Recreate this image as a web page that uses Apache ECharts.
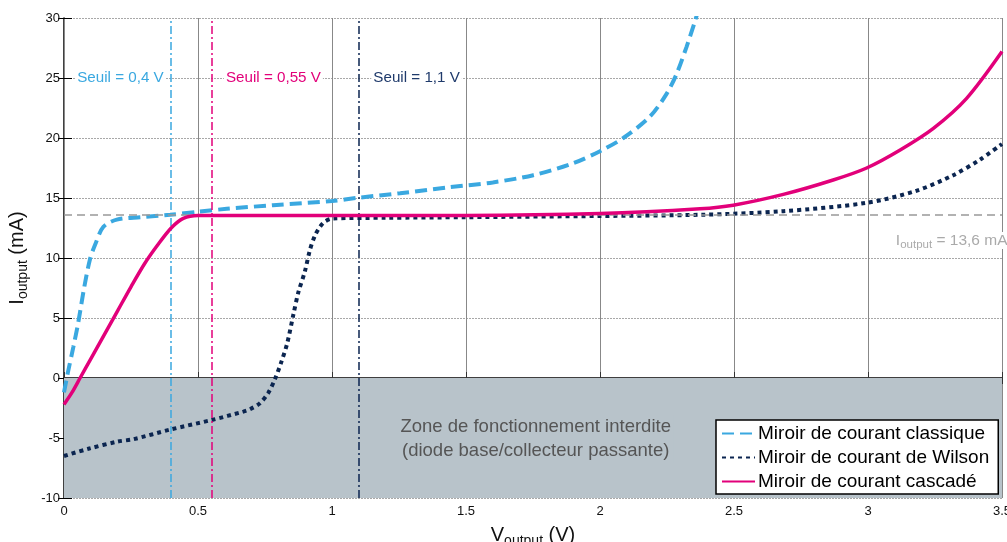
<!DOCTYPE html>
<html><head><meta charset="utf-8">
<script src="https://cdn.jsdelivr.net/npm/echarts@6/dist/echarts.min.js"></script>
<style>html,body{margin:0;padding:0;background:#fff}#c{width:1007px;height:542px}</style>
</head><body><div id="c"></div>
<script>
const FONT = 'Liberation Sans, Arial, sans-serif';

const seriesNames = ['Miroir de courant classique', 'Miroir de courant de Wilson', 'Miroir de courant cascadé'];

const classicData = [[0,-1.2],[0.014,0.4],[0.035,2.6],[0.053,4.6],[0.075,7.5],[0.097,9.9],[0.116,11.1],[0.147,12.6],[0.197,13.2],[0.284,13.4],[0.396,13.6],[0.5,13.85],[0.607,14.1],[0.78,14.4],[1.0,14.75],[1.09,15.0],[1.254,15.4],[1.44,15.9],[1.6,16.3],[1.751,16.9],[1.9,17.9],[2.0,18.9],[2.087,20.0],[2.187,21.8],[2.249,23.7],[2.285,25.3],[2.323,27.6],[2.354,29.7],[2.362,30.3]];

const wilsonData = [[0,-6.5],[0.091,-5.9],[0.2,-5.3],[0.259,-5.1],[0.396,-4.3],[0.551,-3.5],[0.669,-2.8],[0.694,-2.6],[0.731,-2.1],[0.762,-1.25],[0.787,-0.1],[0.812,1.4],[0.833,2.9],[0.856,5.3],[0.874,7.1],[0.899,8.9],[0.918,10.7],[0.937,11.9],[0.955,12.6],[0.974,13.05],[1.005,13.3],[1.2,13.35],[1.5,13.4],[2.0,13.5],[2.373,13.6],[2.684,13.9],[2.995,14.6],[3.18,15.6],[3.318,16.9],[3.418,18.2],[3.5,19.5]];

const cascadeData = [[0,-2.2],[0.03,-1.2],[0.06,0],[0.1,1.6],[0.15,3.6],[0.2,5.6],[0.25,7.6],[0.3,9.5],[0.35,11.1],[0.4,12.5],[0.445,13.3],[0.5,13.55],[0.6,13.55],[1.0,13.55],[1.5,13.55],[2.0,13.7],[2.373,14.1],[2.497,14.4],[2.684,15.3],[2.87,16.5],[2.995,17.5],[3.12,19.0],[3.244,20.8],[3.368,23.3],[3.5,27.2]];

const thresholds = [0.4, 0.55, 1.1];
const thresholdLabels = ['Seuil = 0,4 V', 'Seuil = 0,55 V', 'Seuil = 1,1 V'];
const thresholdLabelY = 25;
const iRef = 13.6;
const iRefLabelPos = [3.5, 11.45];
const zoneRange = [-10, 0];
const zoneLabelPos = [1.76, -5.1];
const zoneText = 'Zone de fonctionnement interdite\n(diode base/collecteur passante)';

const C_CLASSIC = '#3AA8E0', C_WILSON = '#0B2550', C_CASCADE = '#E2007A', C_WILSON_TXT = '#1F3A6B';
const thColors = [C_CLASSIC, C_CASCADE, C_WILSON];
const thTextColors = [C_CLASSIC, C_CASCADE, C_WILSON_TXT];
const thPos = ['left', 'right', 'right'];

const chart = echarts.init(document.getElementById('c'), null, {renderer: 'canvas'});

const subRich = {
  m: {fontSize: 20, fontFamily: FONT, color: '#111', lineHeight: 20},
  s: {fontSize: 14, fontFamily: FONT, color: '#111', lineHeight: 20, padding: [11, 0, 0, 0]}
};

const option = {
  animation: false,
  backgroundColor: '#fff',
  textStyle: {fontFamily: FONT},
  grid: {left: 64, right: 5, top: 18, bottom: 44, containLabel: false, outerBoundsMode: 'none'},
  legend: {
    data: seriesNames,
    orient: 'vertical',
    left: 716, top: 420,
    backgroundColor: '#fff',
    borderColor: '#000', borderWidth: 1.5, borderRadius: 0,
    padding: [4, 9, 3, 5],
    itemWidth: 33, itemHeight: 14, itemGap: 5,
    itemStyle: {opacity: 0},
    textStyle: {fontSize: 19, color: '#000', fontFamily: FONT, padding: [0, 0, 0, -2]}
  },
  xAxis: [{
    type: 'value', min: 0, max: 3.5, interval: 0.5, position: 'bottom',
    axisLine: {show: true, lineStyle: {color: '#777', width: 1}},
    axisTick: {show: true, inside: true, length: 6, lineStyle: {color: '#333'}},
    axisLabel: {fontSize: 13, color: '#111', margin: 7, fontFamily: FONT},
    splitLine: {show: true, lineStyle: {color: '#888', width: 1}},
    name: '{m|V}{s|output}{m| (V)}', nameLocation: 'middle', nameGap: 27,
    nameTextStyle: {rich: subRich}
  }, {
    type: 'value', min: 0, max: 3.5, interval: 0.5, position: 'top',
    axisLine: {show: true, lineStyle: {color: '#000', width: 1.5}},
    axisTick: {show: true, inside: true, length: 6, lineStyle: {color: '#333'}},
    axisLabel: {show: false}, splitLine: {show: false}
  }],
  yAxis: [{
    type: 'value', min: -10, max: 30, interval: 5, position: 'left',
    axisLine: {show: true, lineStyle: {color: '#000', width: 1.5}},
    axisTick: {show: true, inside: true, length: 8, lineStyle: {color: '#000'}},
    axisLabel: {fontSize: 13, color: '#111', margin: 4, fontFamily: FONT},
    splitLine: {show: true, lineStyle: {color: '#a8a8a8', width: 1, type: [2, 1]}},
    name: '{m|I}{s|output}{m| (mA)}', nameLocation: 'middle', nameGap: 21, nameRotate: 90,
    nameTextStyle: {rich: subRich}
  }, {
    type: 'value', min: -10, max: 30, interval: 5, position: 'right',
    axisLine: {show: true, lineStyle: {color: '#888', width: 1}},
    axisTick: {show: true, inside: true, length: 6, lineStyle: {color: '#000'}},
    axisLabel: {show: false}, splitLine: {show: false}
  }],
  series: [
    {
      name: 'zone', type: 'line', data: [], z: -1, silent: true,
      markArea: {
        silent: true,
        itemStyle: {color: '#B8C3CA'},
        data: [[{yAxis: zoneRange[0]}, {yAxis: zoneRange[1]}]]
      }
    },
    {
      name: 'annot', type: 'line', data: [], z: 1, silent: true,
      markLine: {
        silent: true, symbol: ['none', 'none'], label: {show: false},
        data: thresholds.map((t, i) => ({xAxis: t, lineStyle: {color: thColors[i], width: 1.5, type: [8, 3, 2, 3]}}))
          .concat([{yAxis: iRef, lineStyle: {color: '#999', width: 1.5, type: [8, 5]}}])
      },
      markPoint: {
        silent: true,
        data: thresholds.map((t, i) => ({
          coord: [t, thresholdLabelY], symbol: 'circle', symbolSize: 1, itemStyle: {color: 'rgba(0,0,0,0)'},
          label: {show: true, position: thPos[i], distance: i === 0 ? 5 : 12, formatter: thresholdLabels[i],
            color: thTextColors[i], fontSize: 15.2, fontFamily: FONT, backgroundColor: '#fff', padding: [1, 2]}
        })).concat([{
          coord: iRefLabelPos, symbol: 'circle', symbolSize: 1, itemStyle: {color: 'rgba(0,0,0,0)'},
          label: {show: true, position: 'left', distance: -6, backgroundColor: '#fff', padding: [0, 0],
            formatter: '{a|I}{b|output}{a| = 13,6 mA}',
            rich: {a: {fontSize: 15.5, color: '#aaa', fontFamily: FONT, lineHeight: 17},
                   b: {fontSize: 11.5, color: '#aaa', fontFamily: FONT, lineHeight: 17, padding: [9, 0, 0, 0]}}}
        }, {
          coord: zoneLabelPos, symbol: 'circle', symbolSize: 1, itemStyle: {color: 'rgba(0,0,0,0)'},
          label: {show: true, position: 'inside', formatter: zoneText, color: '#555', fontSize: 18.5,
            fontFamily: FONT, lineHeight: 24, align: 'center', backgroundColor: '#B8C3CA', padding: [0, 3]}
        }])
      }
    },
    {
      name: seriesNames[0], type: 'line', data: classicData, symbol: 'none', smooth: 0.3, z: 4,
      lineStyle: {color: C_CLASSIC, width: 4, type: [12, 6], cap: 'butt'}, itemStyle: {color: C_CLASSIC}
    },
    {
      name: seriesNames[1], type: 'line', data: wilsonData, symbol: 'none', smooth: 0.3, z: 3,
      lineStyle: {color: C_WILSON, width: 4, type: [4, 4], cap: 'butt'}, itemStyle: {color: C_WILSON}
    },
    {
      name: seriesNames[2], type: 'line', data: cascadeData, symbol: 'none', smooth: 0.3, z: 5,
      lineStyle: {color: C_CASCADE, width: 3.5}, itemStyle: {color: C_CASCADE}
    }
  ]
};
chart.setOption(option);
</script></body></html>
